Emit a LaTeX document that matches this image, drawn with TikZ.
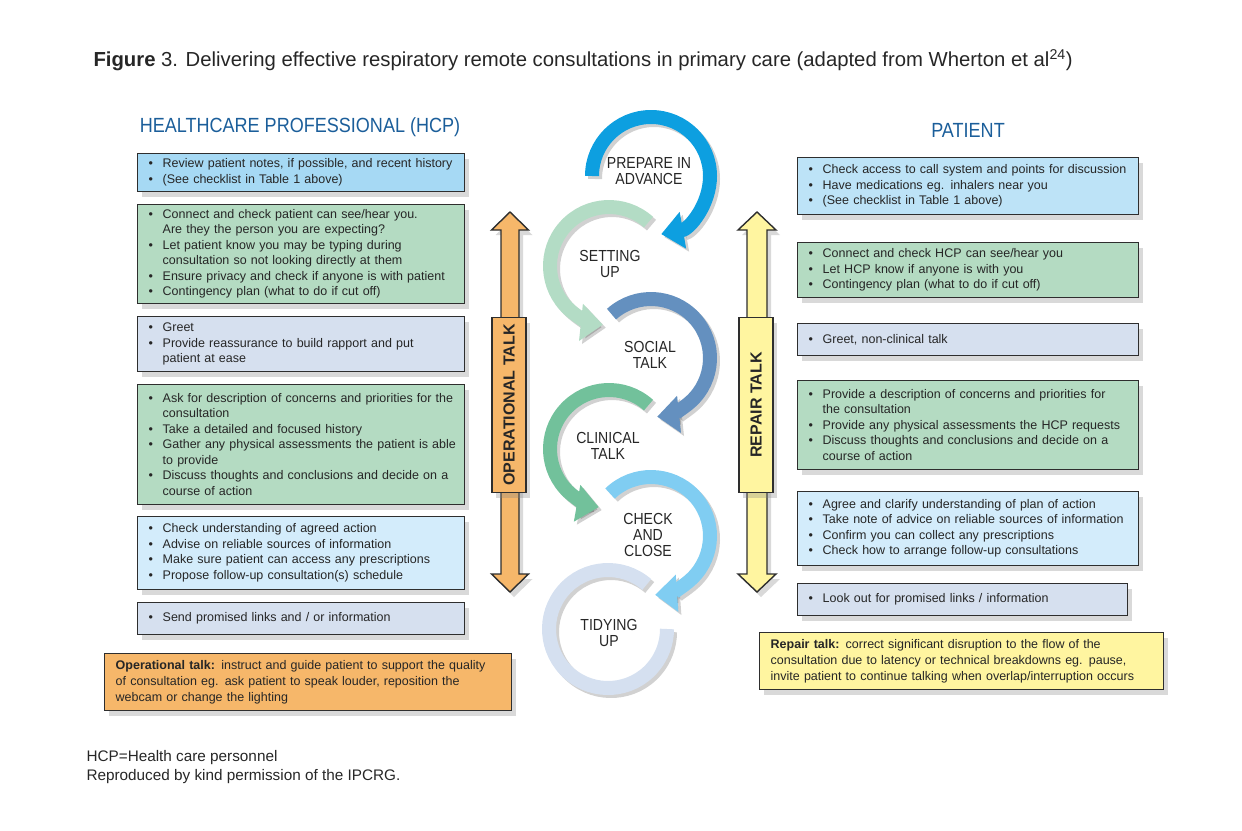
\documentclass[tikz,border=0pt]{standalone}
\usepackage{fontspec}
\usepackage{graphicx}
\setmainfont{Liberation Sans}
\newfontfamily\condfont{Liberation Sans}[FakeStretch=0.88]
\usetikzlibrary{arrows.meta,shadows,positioning}

\definecolor{txt}{HTML}{262626}
\definecolor{boxline}{HTML}{2E2E2E}
\definecolor{headblue}{HTML}{1B5E9A}
\definecolor{prepblue}{HTML}{A6D9F4}
\definecolor{patblue}{HTML}{BDE3F7}
\definecolor{talkgreen}{HTML}{B4DBC2}
\definecolor{greetgrey}{HTML}{D6E0EF}
\definecolor{closeblue}{HTML}{D3ECFB}
\definecolor{opfill}{HTML}{F6B76A}
\definecolor{repfill}{HTML}{FFF5A0}
\definecolor{ringA}{HTML}{0D9FE0}
\definecolor{ringB}{HTML}{B3DCC5}
\definecolor{ringC}{HTML}{6490BF}
\definecolor{ringD}{HTML}{72C19B}
\definecolor{ringE}{HTML}{80CDF2}
\definecolor{ringF}{HTML}{D5E0F0}

\newcommand\itm[1]{\par\noindent\makebox[14pt][l]{\textbullet}\mbox{#1}}
\newcommand\itc[1]{\par\noindent\hspace*{14pt}\mbox{#1}}
\newcommand\lne[1]{\par\noindent\mbox{#1}}

\begin{document}
\begin{tikzpicture}[x=1pt,y=-1pt]
  \tikzset{
    listbox/.style={draw=boxline,line width=1.4pt,anchor=north west,
      inner xsep=11pt,inner ysep=2pt,align=left,text=txt,
      font=\fontsize{12.5}{15.5}\selectfont,
      execute at begin node={\vspace*{-7pt}},
      drop shadow={shadow xshift=4pt,shadow yshift=-5pt,opacity=.3}},
    hcpbox/.style={listbox,text width=305pt},
    patbox/.style={listbox,text width=319pt},
    notebox/.style={listbox,font=\fontsize{12.5}{16}\selectfont},
    heading/.style={text=headblue,font=\condfont\fontsize{20.5}{22}\selectfont},
    ringlabel/.style={align=center,text=txt,font=\condfont\fontsize{16}{16}\selectfont},
    talkarrow/.style={draw=boxline,line width=1.4pt,
      drop shadow={shadow xshift=4pt,shadow yshift=-5pt,opacity=.3}},
    talklabel/.style={talkarrow,minimum width=34pt,minimum height=175pt,inner sep=0pt,
      text=txt,font=\bfseries\fontsize{16}{16}\selectfont},
    ring/.style={line width=14pt},
    ringshade/.style={line width=14pt,black,opacity=.18},
    plain/.style={anchor=west,text=txt,font=\fontsize{15.3}{18}\selectfont}
  }
  \useasboundingbox (0,0) rectangle (1242,830);

  \node[anchor=west,text=txt,font=\fontsize{20.3}{22}\selectfont] (title) at (90,60)
    {\textbf{Figure} 3. Delivering effective respiratory remote consultations in primary care (adapted from Wherton et al\textsuperscript{24})};

  \node[heading] (hcp) at (300,127) {HEALTHCARE PROFESSIONAL (HCP)};
  \node[heading] (patient) at (968,130) {PATIENT};

  % healthcare professional
  \node[hcpbox,fill=prepblue,minimum height=38pt] (hcpA) at (137,153)
    {\itm{Review patient notes, if possible, and recent history}
     \itm{(See checklist in Table 1 above)}};
  \node[hcpbox,fill=talkgreen,minimum height=99pt] (hcpB) at (137,204)
    {\itm{Connect and check patient can see/hear you.}
     \itc{Are they the person you are expecting?}
     \itm{Let patient know you may be typing during}
     \itc{consultation so not looking directly at them}
     \itm{Ensure privacy and check if anyone is with patient}
     \itm{Contingency plan (what to do if cut off)}};
  \node[hcpbox,fill=greetgrey,minimum height=55pt] (hcpC) at (137,316)
    {\itm{Greet}
     \itm{Provide reassurance to build rapport and put}
     \itc{patient at ease}};
  \node[hcpbox,fill=talkgreen,minimum height=120pt] (hcpD) at (137,384)
    {\itm{Ask for description of concerns and priorities for the}
     \itc{consultation}
     \itm{Take a detailed and focused history}
     \itm{Gather any physical assessments the patient is able}
     \itc{to provide}
     \itm{Discuss thoughts and conclusions and decide on a}
     \itc{course of action}};
  \node[hcpbox,fill=closeblue,minimum height=73pt] (hcpE) at (137,516)
    {\itm{Check understanding of agreed action}
     \itm{Advise on reliable sources of information}
     \itm{Make sure patient can access any prescriptions}
     \itm{Propose follow-up consultation(s) schedule}};
  \node[hcpbox,fill=greetgrey,minimum height=32pt] (hcpF) at (137,602)
    {\itm{Send promised links and / or information}};
  \node[notebox,fill=opfill,text width=385pt,minimum height=57pt] (opnote) at (104,653)
    {\lne{\textbf{Operational talk:} instruct and guide patient to support the quality}
     \lne{of consultation eg. ask patient to speak louder, reposition the}
     \lne{webcam or change the lighting}};

  % patient
  \node[patbox,fill=patblue,minimum height=57pt] (patA) at (797,157)
    {\itm{Check access to call system and points for discussion}
     \itm{Have medications eg. inhalers near you}
     \itm{(See checklist in Table 1 above)}};
  \node[patbox,fill=talkgreen,minimum height=55pt] (patB) at (797,242)
    {\itm{Connect and check HCP can see/hear you}
     \itm{Let HCP know if anyone is with you}
     \itm{Contingency plan (what to do if cut off)}};
  \node[patbox,fill=greetgrey,minimum height=32pt] (patC) at (797,323)
    {\itm{Greet, non-clinical talk}};
  \node[patbox,fill=talkgreen,minimum height=89pt] (patD) at (797,380)
    {\itm{Provide a description of concerns and priorities for}
     \itc{the consultation}
     \itm{Provide any physical assessments the HCP requests}
     \itm{Discuss thoughts and conclusions and decide on a}
     \itc{course of action}};
  \node[patbox,fill=closeblue,minimum height=74pt] (patE) at (797,491)
    {\itm{Agree and clarify understanding of plan of action}
     \itm{Take note of advice on reliable sources of information}
     \itm{Confirm you can collect any prescriptions}
     \itm{Check how to arrange follow-up consultations}};
  \node[patbox,fill=greetgrey,text width=308pt,minimum height=32pt] (patF) at (797,583)
    {\itm{Look out for promised links / information}};
  \node[notebox,fill=repfill,text width=382pt,minimum height=57pt] (repnote) at (759,632)
    {\lne{\textbf{Repair talk:} correct significant disruption to the flow of the}
     \lne{consultation due to latency or technical breakdowns eg. pause,}
     \lne{invite patient to continue talking when overlap/interruption occurs}};

  % talk arrows
  \draw[talkarrow,fill=opfill] (510,212) -- (528.5,230) -- (519,230) -- (519,574)
    -- (528.5,574) -- (510,592) -- (491.5,574) -- (501,574) -- (501,230) -- (491.5,230) -- cycle;
  \node[talklabel,fill=opfill] (oplabel) at (509,405) {\rotatebox{90}{OPERATIONAL TALK}};
  \draw[talkarrow,fill=repfill] (757,212) -- (776,230) -- (767,230) -- (767,574)
    -- (776,574) -- (757,592) -- (738,574) -- (747,574) -- (747,230) -- (738,230) -- cycle;
  \node[talklabel,fill=repfill] (replabel) at (756,405) {\rotatebox{90}{REPAIR TALK}};

  % consultation cycle
  \coordinate (cA) at (651,176);
  \coordinate (cB) at (609,266);
  \coordinate (cC) at (651,358);
  \coordinate (cD) at (609,449);
  \coordinate (cE) at (651,536);
  \coordinate (cF) at (608,629);
  \draw[ringshade] ([shift={(311:59)},xshift=3pt,yshift=-3pt]cF)
    arc[start angle=311,end angle=0,radius=59];
  \foreach \c/\s/\e in {cE/226/446,cD/312/100,cC/228/444,cB/312/96,cA/180/440}
    \draw[ringshade,-{Triangle[width=36pt,length=22pt]}] ([shift={(\s:59)},xshift=3pt,yshift=-3pt]\c)
      arc[start angle=\s,end angle=\e,radius=59];
  \draw[ring,ringF] ([shift={(311:59)}]cF) arc[start angle=311,end angle=0,radius=59];
  \foreach \c/\s/\e/\col in {cE/226/446/ringE,cD/312/100/ringD,cC/228/444/ringC,cB/312/96/ringB,cA/180/440/ringA}
    \draw[ring,\col,-{Triangle[width=36pt,length=22pt]}] ([shift={(\s:59)}]\c)
      arc[start angle=\s,end angle=\e,radius=59];

  \node[ringlabel] (prepare) at (649,171) {PREPARE IN\\ADVANCE};
  \node[ringlabel] (setting) at (610,264) {SETTING\\UP};
  \node[ringlabel] (social) at (650,355) {SOCIAL\\TALK};
  \node[ringlabel] (clinical) at (608,446) {CLINICAL\\TALK};
  \node[ringlabel] (check) at (648,535) {CHECK\\AND\\CLOSE};
  \node[ringlabel] (tidying) at (609,633) {TIDYING\\UP};

  \node[plain] (hcpnote) at (83,758) {HCP=Health care personnel};
  \node[plain] (permission) at (83,777) {Reproduced by kind permission of the IPCRG.};
\end{tikzpicture}
\end{document}
